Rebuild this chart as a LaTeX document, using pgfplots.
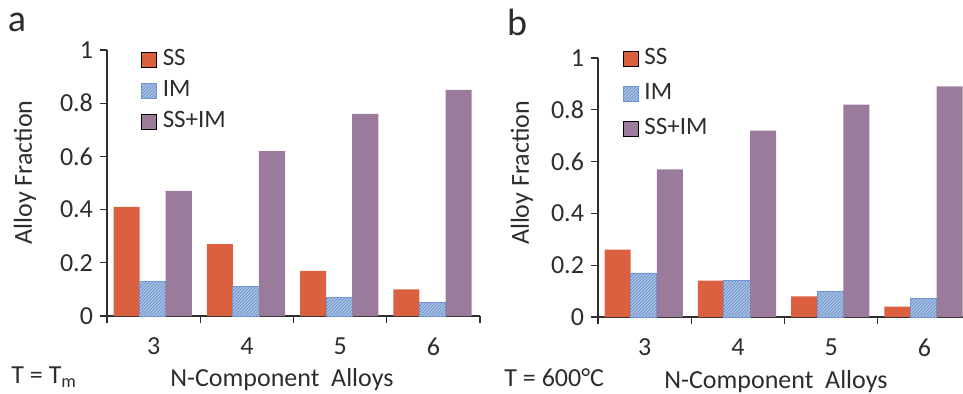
\documentclass[border=0pt]{standalone}
\usepackage{fontspec}
\setmainfont{Carlito}
\usepackage{pgfplots}
\pgfplotsset{compat=1.18}
\usetikzlibrary{patterns,patterns.meta}
\definecolor{ssc}{RGB}{218,96,64}
\definecolor{imc}{RGB}{172,197,232}
\definecolor{imline}{RGB}{110,145,200}
\definecolor{imedge}{RGB}{110,150,215}
\definecolor{mixc}{RGB}{155,123,155}
\definecolor{txt}{RGB}{45,45,45}

\pgfdeclarepattern{
  name=finene, type=uncolored,
  bottom left={\pgfpoint{-.1pt}{-.1pt}},
  top right={\pgfpoint{1.7pt}{1.7pt}},
  tile size={\pgfpoint{1.6pt}{1.6pt}},
  code={\pgfsetlinewidth{0.35pt}
        \pgfpathmoveto{\pgfpoint{-.1pt}{-.1pt}}
        \pgfpathlineto{\pgfpoint{1.7pt}{1.7pt}}
        \pgfusepath{stroke}}}

\pgfplotsset{
 sqlegend/.style={legend image code/.code={\draw[##1] (0pt,-3.75pt) rectangle (7.5pt,3.75pt);}},
 panel/.style={
 scale only axis, width=186.5pt,
 xmin=2.5, xmax=6.5, ymin=0, ymax=1,
 axis lines=left,
 axis line style={-, line width=0.6pt, txt},
 xtick={3,4,5,6}, minor xtick={2.5,3.5,4.5,5.5,6.5},
 major x tick style={draw=none},
 tick align=outside, major tick length=3.5pt, minor tick length=3.5pt,
 tick style={line width=0.6pt, txt},
 ytick={0,0.2,0.4,0.6,0.8,1},
 /pgf/number format/assume math mode=true,
 yticklabel style={/pgf/number format/fixed},
 xticklabel style={yshift=-4pt},
 ticklabel style={font=\fontsize{13}{15}\selectfont, text=txt},
 label style={font=\fontsize{13}{15}\selectfont, text=txt},
 ybar, bar width=0.28,
 legend style={draw=none, fill=none, inner sep=0pt, row sep=3.5pt,
   font=\fontsize{12.5}{14}\selectfont, text=txt,
   nodes={inner sep=1pt, text height=8pt, text depth=2pt},
   /tikz/every odd column/.append style={column sep=2pt},
   cells={anchor=west}},
 },
 ssbar/.style={fill=ssc, draw=none, bar shift=-0.29, sqlegend},
 imbar/.style={fill=imc, draw=imedge, line width=0.4pt, bar shift=-0.01,
   postaction={pattern=finene, pattern color=imline}, sqlegend},
 mixbar/.style={fill=mixc, draw=none, bar shift=0.27, sqlegend},
}

\begin{document}
\begin{tikzpicture}
\path[use as bounding box] (0,0) rectangle (481.5pt,196.5pt);

\begin{axis}[panel, height=133pt,
  at={(53.5pt,38.5pt)}, anchor=south west,
  xlabel={N-Component\ \ Alloys}, ylabel={Alloy Fraction},
  xlabel style={at={(axis description cs:0.469,-0.24)}, anchor=center},
  ylabel style={at={(axis description cs:-0.22,0.54)}, anchor=center},
  legend style={at={(axis description cs:0.09,1.01)}, anchor=north west}]
\addplot[ssbar] coordinates {(3,0.41) (4,0.27) (5,0.17) (6,0.10)};
\addlegendentry{SS}
\addplot[imbar] coordinates {(3,0.13) (4,0.11) (5,0.07) (6,0.05)};
\addlegendentry{IM}
\addplot[mixbar] coordinates {(3,0.47) (4,0.62) (5,0.76) (6,0.85)};
\addlegendentry{SS+IM}
\end{axis}

\begin{axis}[panel, height=129.5pt,
  at={(299pt,38pt)}, anchor=south west,
  xlabel={N-Component\ \ Alloys}, ylabel={Alloy Fraction},
  xlabel style={at={(axis description cs:0.477,-0.251)}, anchor=center},
  ylabel style={at={(axis description cs:-0.204,0.556)}, anchor=center},
  legend style={at={(axis description cs:0.065,1.045)}, anchor=north west, row sep=5.5pt}]
\addplot[ssbar] coordinates {(3,0.26) (4,0.14) (5,0.08) (6,0.04)};
\addlegendentry{SS}
\addplot[imbar] coordinates {(3,0.17) (4,0.14) (5,0.10) (6,0.07)};
\addlegendentry{IM}
\addplot[mixbar] coordinates {(3,0.57) (4,0.72) (5,0.82) (6,0.89)};
\addlegendentry{SS+IM}
\end{axis}

\node[font=\fontsize{19}{22}\selectfont, text=txt] at (8.5pt,185.5pt) {a};
\node[font=\fontsize{19}{22}\selectfont, text=txt] at (258.5pt,185.5pt) {b};
\node[font=\fontsize{13}{15}\selectfont, text=txt, anchor=west, inner sep=0pt] at (5.5pt,8pt) {T = T\textsubscript{m}};
\node[font=\fontsize{13}{15}\selectfont, text=txt, anchor=west, inner sep=0pt] at (252pt,7.5pt) {T = 600°C};
\end{tikzpicture}
\end{document}
